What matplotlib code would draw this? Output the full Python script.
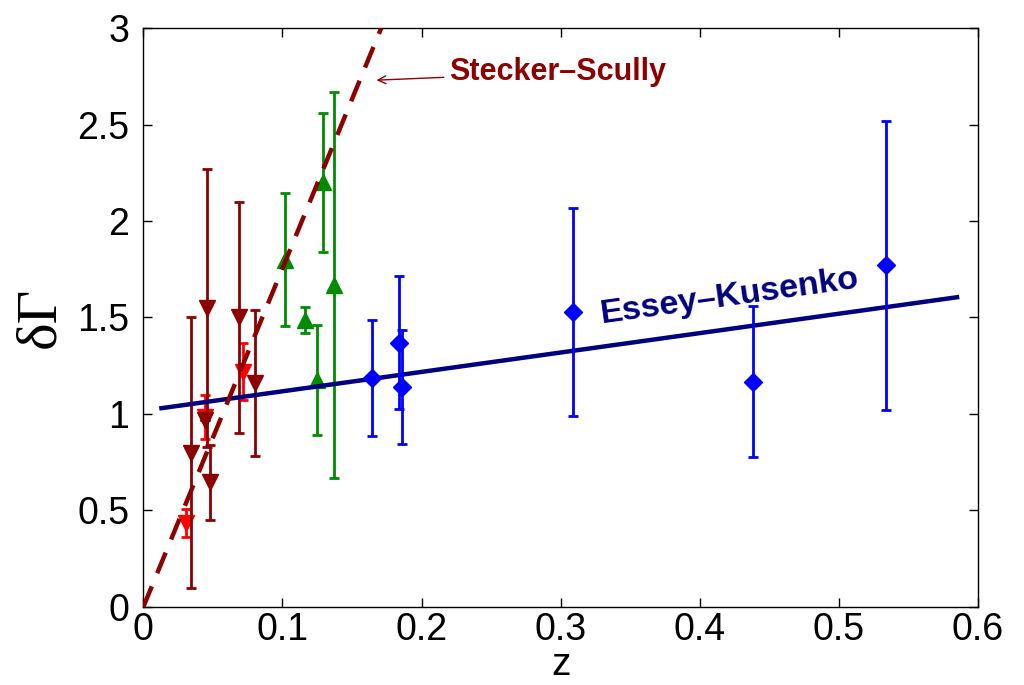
import matplotlib
matplotlib.use("Agg")
import matplotlib.pyplot as plt

plt.rcParams['font.family'] = ['Liberation Sans', 'DejaVu Sans']

# spectral index change vs redshift, grouped by source sample
dr_z = [0.034, 0.046, 0.0445, 0.048, 0.069, 0.080]
dr_g = [0.80, 1.55, 0.97, 0.645, 1.50, 1.16]
dr_err = [0.70, 0.72, 0.0, 0.195, 0.60, 0.38]

red_z = [0.031, 0.0445, 0.0715]
red_g = [0.435, 0.985, 1.22]
red_err = [0.075, 0.115, 0.15]

gr_z = [0.1017, 0.116, 0.125, 0.129, 0.137]
gr_g = [1.80, 1.487, 1.176, 2.20, 1.668]
gr_err = [0.345, 0.067, 0.285, 0.36, 1.0]

bl_z = [0.1646, 0.1837, 0.1856, 0.309, 0.4383, 0.534]
bl_g = [1.188, 1.37, 1.14, 1.53, 1.167, 1.77]
bl_err = [0.30, 0.345, 0.295, 0.54, 0.39, 0.75]

# model curves
ek_z = [0.013, 0.585]
ek_g = [1.03, 1.605]
ss_z = [0.0, 0.171]
ss_g = [0.0, 3.0]

xticks = [0, 0.1, 0.2, 0.3, 0.4, 0.5, 0.6]
yticks = [0, 0.5, 1, 1.5, 2, 2.5, 3]

DARKRED = '#8c0000'
NAVY = '#00007f'

fig = plt.figure(figsize=(10.24, 6.85), dpi=100)
ax = fig.add_axes([0.140, 0.114, 0.815, 0.845])

eb = dict(elinewidth=2, capthick=2, capsize=3.5, linestyle='none')
ax.errorbar(red_z, red_g, yerr=red_err, fmt='v', color='#ff0000', ms=12, zorder=2, **eb)
ax.errorbar(dr_z, dr_g, yerr=dr_err, fmt='v', color=DARKRED, ms=12, zorder=2.2, **eb)
ax.errorbar(gr_z, gr_g, yerr=gr_err, fmt='^', color='#008c00', ms=12, zorder=2.2, **eb)

ax.plot(ek_z, ek_g, color=NAVY, lw=3.2, zorder=3)
ax.plot(ss_z, ss_g, color=DARKRED, lw=3.2, dashes=(5, 3.2), zorder=3)

ax.errorbar(bl_z, bl_g, yerr=bl_err, fmt='D', color='#0000ff', ms=9, zorder=3.5, **eb)

ax.annotate('Stecker\u2013Scully', xy=(0.1676, 2.73), xytext=(0.220, 2.77),
            color=DARKRED, fontsize=22, fontweight='bold', va='center', ha='left',
            arrowprops=dict(arrowstyle='->', color=DARKRED, lw=1, shrinkA=2, shrinkB=0,
                            mutation_scale=14))
ax.text(0.4216, 1.606, 'Essey\u2013Kusenko', color=NAVY, fontsize=24.5, fontweight='bold',
        rotation=7.9, rotation_mode='anchor', ha='center', va='center')

ax.set_xlim(0, 0.6)
ax.set_ylim(0, 3)
ax.set_xticks(xticks)
ax.set_xticklabels([f'{t:g}' for t in xticks])
ax.set_yticks(yticks)
ax.set_yticklabels([f'{t:g}' for t in yticks])
ax.tick_params(direction='in', length=6.5, width=1, labelsize=27, top=True, right=True)
ax.tick_params(axis='x', pad=4)
ax.tick_params(axis='y', pad=10)
for s in ax.spines.values():
    s.set_linewidth(1)

ax.set_xlabel('z', fontsize=28, labelpad=-1)
ax.set_ylabel('\u03b4\u0393', fontsize=42, family=['Liberation Serif', 'DejaVu Serif'], labelpad=8)

plt.savefig('out.png', dpi=100)
